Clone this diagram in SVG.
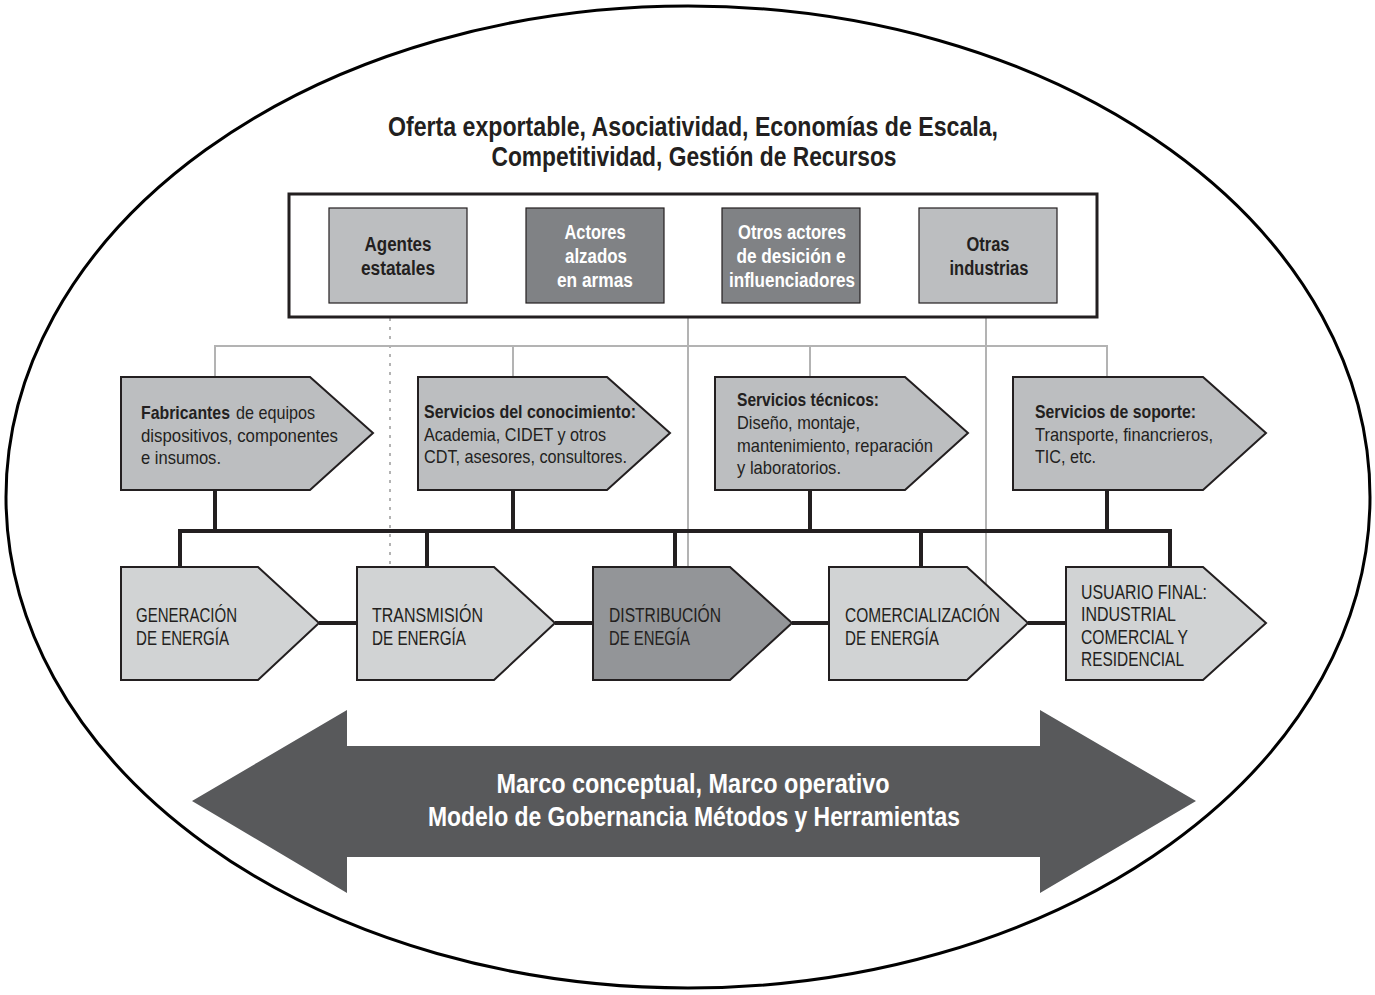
<svg xmlns="http://www.w3.org/2000/svg" width="1375" height="995" viewBox="0 0 1375 995">
<style>
text{font-family:"Liberation Sans",Arial,sans-serif;fill:#231f20}
.t{font-size:27px;font-weight:bold;text-anchor:middle}
.b{font-size:20px;font-weight:bold;text-anchor:middle}
.w{fill:#ffffff}
.s{font-size:18.5px}
.bo{font-weight:bold}
.r{font-size:20px}
.lt{fill:#bcbec0;stroke:#231f20;stroke-width:1.2}
.dk{fill:#808285;stroke:#231f20;stroke-width:1.2}
.c1{fill:#bcbec0;stroke:#231f20;stroke-width:2}
.c2{fill:#d1d3d4;stroke:#231f20;stroke-width:2}
.c3{fill:#939598;stroke:#231f20;stroke-width:2}
.g{stroke:#b3b3b3;stroke-width:2;fill:none}
.k{stroke:#231f20;stroke-width:4;fill:none}
</style>
<rect width="1375" height="995" fill="#ffffff"/>
<ellipse id="frame" cx="688" cy="497" rx="682" ry="491" fill="none" stroke="#000" stroke-width="3"/>
<g id="title">
<text class="t" x="693" y="136" textLength="610" lengthAdjust="spacingAndGlyphs">Oferta exportable, Asociatividad, Economías de Escala,</text>
<text class="t" x="694" y="166" textLength="405" lengthAdjust="spacingAndGlyphs">Competitividad, Gestión de Recursos</text>
</g>
<g id="connectors">
<line class="g" x1="390" y1="318" x2="390" y2="566" stroke-dasharray="3,6"/>
<polyline class="g" points="215,377 215,346 1107,346 1107,377"/>
<line class="g" x1="513" y1="346" x2="513" y2="377"/>
<line class="g" x1="810" y1="346" x2="810" y2="377"/>
<line class="g" x1="688" y1="317" x2="688" y2="567"/>
<line class="g" x1="986" y1="317" x2="986" y2="585"/>
<line class="k" x1="215" y1="490" x2="215" y2="531"/>
<line class="k" x1="513" y1="490" x2="513" y2="531"/>
<line class="k" x1="810" y1="490" x2="810" y2="531"/>
<line class="k" x1="1107" y1="490" x2="1107" y2="531"/>
<polyline class="k" points="180,567 180,531 1170,531 1170,567"/>
<line class="k" x1="427" y1="531" x2="427" y2="567"/>
<line class="k" x1="675" y1="531" x2="675" y2="567"/>
<line class="k" x1="921" y1="531" x2="921" y2="567"/>
<line class="k" x1="319" y1="623" x2="357" y2="623"/>
<line class="k" x1="555" y1="623" x2="593" y2="623"/>
<line class="k" x1="792" y1="623" x2="829" y2="623"/>
<line class="k" x1="1028" y1="623" x2="1066" y2="623"/>
</g>
<g id="actors">
<rect x="289" y="194" width="808" height="123" fill="#fff" stroke="#231f20" stroke-width="3"/>
<g id="agentes"><rect class="lt" x="329" y="208" width="138" height="95"/>
<text class="b" x="398" y="251" textLength="67" lengthAdjust="spacingAndGlyphs">Agentes</text><text class="b" x="398" y="275" textLength="74" lengthAdjust="spacingAndGlyphs">estatales</text></g>
<g id="alzados"><rect class="dk" x="526" y="208" width="138" height="95"/>
<text class="b w" x="595" y="239" textLength="61" lengthAdjust="spacingAndGlyphs">Actores</text><text class="b w" x="596" y="263" textLength="62" lengthAdjust="spacingAndGlyphs">alzados</text><text class="b w" x="595" y="287" textLength="76" lengthAdjust="spacingAndGlyphs">en armas</text></g>
<g id="otros"><rect class="dk" x="722" y="208" width="138" height="95"/>
<text class="b w" x="792" y="239" textLength="108" lengthAdjust="spacingAndGlyphs">Otros actores</text><text class="b w" x="791" y="263" textLength="109" lengthAdjust="spacingAndGlyphs">de desición e</text><text class="b w" x="792" y="287" textLength="126" lengthAdjust="spacingAndGlyphs">influenciadores</text></g>
<g id="industrias"><rect class="lt" x="919" y="208" width="138" height="95"/>
<text class="b" x="988" y="251" textLength="43" lengthAdjust="spacingAndGlyphs">Otras</text><text class="b" x="989" y="275" textLength="79" lengthAdjust="spacingAndGlyphs">industrias</text></g>
</g>
<g id="fabricantes"><polygon class="c1" points="121,377 310,377 373,433 310,490 121,490"/>
<text class="s bo" x="141" y="419" textLength="89" lengthAdjust="spacingAndGlyphs">Fabricantes</text>
<text class="s" x="236" y="419" textLength="79" lengthAdjust="spacingAndGlyphs">de equipos</text>
<text class="s" x="141" y="442" textLength="197" lengthAdjust="spacingAndGlyphs">dispositivos, componentes</text>
<text class="s" x="141" y="464" textLength="80" lengthAdjust="spacingAndGlyphs">e insumos.</text></g>
<g id="conocimiento"><polygon class="c1" points="418,377 607,377 670,433 607,490 418,490"/>
<text class="s bo" x="424" y="418" textLength="212" lengthAdjust="spacingAndGlyphs">Servicios del conocimiento:</text>
<text class="s" x="424" y="441" textLength="182" lengthAdjust="spacingAndGlyphs">Academia, CIDET y otros</text>
<text class="s" x="424" y="463" textLength="203" lengthAdjust="spacingAndGlyphs">CDT, asesores, consultores.</text></g>
<g id="tecnicos"><polygon class="c1" points="715,377 905,377 968,433 905,490 715,490"/>
<text class="s bo" x="737" y="406" textLength="142" lengthAdjust="spacingAndGlyphs">Servicios técnicos:</text>
<text class="s" x="737" y="429" textLength="123" lengthAdjust="spacingAndGlyphs">Diseño, montaje,</text>
<text class="s" x="737" y="452" textLength="196" lengthAdjust="spacingAndGlyphs">mantenimiento, reparación</text>
<text class="s" x="737" y="474" textLength="104" lengthAdjust="spacingAndGlyphs">y laboratorios.</text></g>
<g id="soporte"><polygon class="c1" points="1013,377 1203,377 1266,433 1203,490 1013,490"/>
<text class="s bo" x="1035" y="418" textLength="161" lengthAdjust="spacingAndGlyphs">Servicios de soporte:</text>
<text class="s" x="1035" y="441" textLength="178" lengthAdjust="spacingAndGlyphs">Transporte, financrieros,</text>
<text class="s" x="1035" y="463" textLength="61" lengthAdjust="spacingAndGlyphs">TIC, etc.</text></g>
<g id="generacion"><polygon class="c2" points="121,567 258,567 319,623 258,680 121,680"/>
<text class="r" x="136" y="622" textLength="101" lengthAdjust="spacingAndGlyphs">GENERACIÓN</text><text class="r" x="136" y="645" textLength="93" lengthAdjust="spacingAndGlyphs">DE ENERGÍA</text></g>
<g id="transmision"><polygon class="c2" points="357,567 494,567 555,623 494,680 357,680"/>
<text class="r" x="372" y="622" textLength="111" lengthAdjust="spacingAndGlyphs">TRANSMISIÓN</text><text class="r" x="372" y="645" textLength="94" lengthAdjust="spacingAndGlyphs">DE ENERGÍA</text></g>
<g id="distribucion"><polygon class="c3" points="593,567 730,567 792,623 730,680 593,680"/>
<text class="r" x="609" y="622" textLength="112" lengthAdjust="spacingAndGlyphs">DISTRIBUCIÓN</text><text class="r" x="609" y="645" textLength="81" lengthAdjust="spacingAndGlyphs">DE ENEGÍA</text></g>
<g id="comercializacion"><polygon class="c2" points="829,567 967,567 1028,623 967,680 829,680"/>
<text class="r" x="845" y="622" textLength="155" lengthAdjust="spacingAndGlyphs">COMERCIALIZACIÓN</text><text class="r" x="845" y="645" textLength="94" lengthAdjust="spacingAndGlyphs">DE ENERGÍA</text></g>
<g id="usuario"><polygon class="c2" points="1066,567 1203,567 1266,623 1203,680 1066,680"/>
<text class="r" x="1081" y="599" textLength="126" lengthAdjust="spacingAndGlyphs">USUARIO FINAL:</text><text class="r" x="1081" y="621" textLength="95" lengthAdjust="spacingAndGlyphs">INDUSTRIAL</text>
<text class="r" x="1081" y="644" textLength="107" lengthAdjust="spacingAndGlyphs">COMERCIAL Y</text><text class="r" x="1081" y="666" textLength="103" lengthAdjust="spacingAndGlyphs">RESIDENCIAL</text></g>
<g id="marco">
<polygon points="192,801 347,710 347,746 1040,746 1040,710 1196,801 1040,893 1040,857 347,857 347,893" fill="#58595b"/>
<text class="t w" x="693" y="793" textLength="393" lengthAdjust="spacingAndGlyphs">Marco conceptual, Marco operativo</text>
<text class="t w" x="694" y="826" textLength="532" lengthAdjust="spacingAndGlyphs">Modelo de Gobernancia Métodos y Herramientas</text>
</g>
</svg>
